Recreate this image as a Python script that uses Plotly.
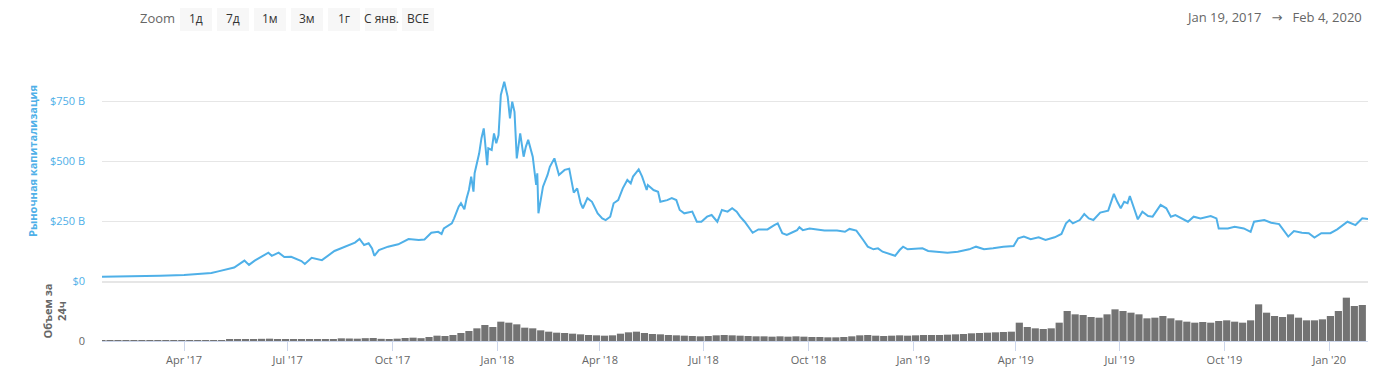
import pandas as pd
import plotly.graph_objects as go
from plotly.subplots import make_subplots

# ---------------- data ----------------
price_dates = [
    "2017-01-19", "2017-02-13", "2017-03-11", "2017-04-01", "2017-04-16", "2017-04-25",
    "2017-05-01", "2017-05-10", "2017-05-15", "2017-05-24", "2017-05-28", "2017-06-02",
    "2017-06-11", "2017-06-14", "2017-06-17", "2017-06-23", "2017-06-28", "2017-07-04",
    "2017-07-13", "2017-07-16", "2017-07-22", "2017-07-31", "2017-08-11", "2017-08-20",
    "2017-08-29", "2017-09-02", "2017-09-06", "2017-09-10", "2017-09-13", "2017-09-15",
    "2017-09-19", "2017-09-27", "2017-10-06", "2017-10-15", "2017-10-24", "2017-10-29",
    "2017-11-04", "2017-11-10", "2017-11-13", "2017-11-15", "2017-11-22", "2017-11-24",
    "2017-11-28", "2017-11-30", "2017-12-03", "2017-12-05", "2017-12-07", "2017-12-09",
    "2017-12-11", "2017-12-12", "2017-12-15", "2017-12-16", "2017-12-18", "2017-12-20",
    "2017-12-21", "2017-12-23", "2017-12-24", "2017-12-27", "2017-12-29", "2017-12-31",
    "2018-01-02", "2018-01-04", "2018-01-07", "2018-01-10", "2018-01-12", "2018-01-14",
    "2018-01-16", "2018-01-18", "2018-01-21", "2018-01-24", "2018-01-26", "2018-01-28",
    "2018-02-01", "2018-02-04", "2018-02-05", "2018-02-06", "2018-02-10", "2018-02-14",
    "2018-02-16", "2018-02-20", "2018-02-24", "2018-03-01", "2018-03-05", "2018-03-09",
    "2018-03-12", "2018-03-15", "2018-03-17", "2018-03-21", "2018-03-25", "2018-03-30",
    "2018-04-03", "2018-04-06", "2018-04-10", "2018-04-13", "2018-04-17", "2018-04-21",
    "2018-04-25", "2018-04-28", "2018-04-30", "2018-05-05", "2018-05-08", "2018-05-12",
    "2018-05-13", "2018-05-18", "2018-05-22", "2018-05-24", "2018-05-30", "2018-06-03",
    "2018-06-07", "2018-06-10", "2018-06-14", "2018-06-21", "2018-06-25", "2018-06-29",
    "2018-07-04", "2018-07-08", "2018-07-13", "2018-07-17", "2018-07-22", "2018-07-26",
    "2018-07-30", "2018-08-02", "2018-08-06", "2018-08-10", "2018-08-13", "2018-08-18",
    "2018-08-26", "2018-09-01", "2018-09-04", "2018-09-08", "2018-09-12", "2018-09-17",
    "2018-09-21", "2018-09-23", "2018-09-26", "2018-10-02", "2018-10-09", "2018-10-15",
    "2018-10-26", "2018-11-02", "2018-11-06", "2018-11-12", "2018-11-18", "2018-11-22",
    "2018-11-27", "2018-12-01", "2018-12-05", "2018-12-11", "2018-12-16", "2018-12-20",
    "2018-12-23", "2018-12-27", "2019-01-05", "2019-01-09", "2019-01-14", "2019-01-22",
    "2019-01-31", "2019-02-09", "2019-02-19", "2019-02-25", "2019-03-04", "2019-03-12",
    "2019-03-21", "2019-03-30", "2019-04-03", "2019-04-08", "2019-04-14", "2019-04-21",
    "2019-04-27", "2019-05-05", "2019-05-11", "2019-05-15", "2019-05-18", "2019-05-21",
    "2019-05-27", "2019-05-31", "2019-06-04", "2019-06-08", "2019-06-14", "2019-06-21",
    "2019-06-23", "2019-06-26", "2019-06-29", "2019-07-02", "2019-07-05", "2019-07-08",
    "2019-07-10", "2019-07-13", "2019-07-17", "2019-07-21", "2019-07-26", "2019-07-30",
    "2019-08-02", "2019-08-06", "2019-08-11", "2019-08-15", "2019-08-19", "2019-08-24",
    "2019-08-30", "2019-09-04", "2019-09-10", "2019-09-19", "2019-09-24", "2019-09-26",
    "2019-10-04", "2019-10-10", "2019-10-18", "2019-10-24", "2019-10-27", "2019-11-05",
    "2019-11-11", "2019-11-18", "2019-11-26", "2019-12-01", "2019-12-08", "2019-12-14",
    "2019-12-19", "2019-12-25", "2020-01-02", "2020-01-08", "2020-01-17", "2020-01-24",
    "2020-01-30", "2020-02-04",
]
# total market capitalisation, billions of USD
price_values = [
    18, 19, 22, 25, 30, 33,
    40, 52, 56, 85, 67, 85,
    108, 118, 105, 118, 100, 101,
    83, 71, 97, 87, 125, 143,
    160, 175, 150, 157, 136, 105,
    129, 143, 153, 175, 171, 173,
    201, 205, 196, 219, 240, 261,
    310, 324, 299, 345, 379, 435,
    372, 449, 504, 532, 595, 636,
    588, 483, 553, 546, 615, 574,
    608, 775, 830, 768, 678, 747,
    705, 511, 615, 518, 560, 588,
    518, 400, 449, 282, 393, 442,
    476, 511, 442, 463, 468, 368,
    386, 324, 303, 345, 330, 282,
    261, 254, 268, 324, 337, 386,
    421, 407, 435, 465, 435, 379,
    400, 379, 372, 330, 337, 345,
    337, 296, 282, 289, 247, 247,
    268, 275, 247, 296, 289, 303,
    289, 268, 247, 219, 201, 215,
    215, 233, 240, 199, 192, 203,
    212, 224, 212, 219, 215, 210,
    210, 205, 217, 210, 171, 143,
    132, 136, 122, 112, 105, 129,
    143, 132, 133, 136, 125, 122,
    118, 122, 132, 143, 132, 136,
    143, 146, 178, 185, 174, 182,
    171, 182, 196, 240, 254, 240,
    254, 279, 261, 254, 285, 293,
    324, 363, 330, 303, 330, 324,
    354, 310, 257, 289, 271, 268,
    289, 317, 303, 268, 275, 261,
    247, 268, 261, 271, 261, 219,
    219, 226, 219, 205, 247, 254,
    243, 237, 185, 208, 201, 199,
    181, 199, 199, 215, 247, 233,
    261, 258,
]

# weekly 24h volume, billions of USD (one bar per week starting 2017-01-19)
volume_start = "2017-01-19"
volume_values = [
    # 2017
    0.5, 0.6,
    0.5, 0.6, 0.7, 0.8,
    0.9, 1.0, 1.3, 1.1, 1.2,
    1.3, 1.2, 1.6, 1.9,
    2.5, 3.2, 4.0, 5.5,
    5.0, 6.5, 7.0, 5.8, 5.0,
    4.5, 5.5, 6.0, 4.2,
    5.0, 6.0, 8.0, 7.5, 7.0,
    8.5, 9.0, 6.5, 6.0,
    7.0, 9.0, 10.0, 8.5,
    12.0, 16.0, 15.0, 18.0, 24.0,
    30.0, 38.0, 48.0, 42.0,
    # 2018
    58, 55, 50, 40,
    38, 32, 28, 25,
    24, 22, 20, 18, 17,
    16, 17, 22, 26,
    28, 24, 21, 20, 18,
    17, 16, 15, 14,
    15, 17, 18, 17,
    16, 15, 14, 14, 13,
    14, 13, 14, 13,
    12, 12, 11, 11,
    12, 14, 17, 18, 16,
    15, 16, 17, 16,
    # 2019
    17, 18, 18, 18, 19,
    20, 21, 23, 24,
    25, 26, 27, 28,
    55, 42, 38, 36,
    38, 55, 90, 80, 78,
    72, 70, 80, 95,
    90, 85, 80, 68,
    70, 75, 68, 62, 58,
    55, 57, 55, 60,
    62, 58, 55, 62, 110,
    85, 75, 72, 80,
    70, 62, 62, 65,
    # 2020
    75, 90, 130, 105, 108,
]
volume_dates = pd.date_range(volume_start, periods=len(volume_values), freq="7D")

price_ticks = [0, 250, 500, 750, 1000]
price_tick_text = ["$0", "$250 B", "$500 B", "$750 B", ""]
zoom_buttons = ["1д", "7д", "1м", "3м", "1г", "С янв.", "ВСЕ"]
range_from = "Jan 19, 2017"
range_to = "Feb 4, 2020"

# ---------------- figure ----------------
# the page body has an 8 px margin, so the figure is drawn 8 px in from the
# top-left corner of the window; all pixel positions below are window pixels
OFF = 8
WIN_W, WIN_H = 1397, 382
W, H = WIN_W - OFF, WIN_H - OFF
PL, PR, PT, PB = 102, 1368, 41, 341          # plot area in window pixels
ML, MR, MT, MB = PL - OFF, WIN_W - PR, PT - OFF, WIN_H - PB
PW, PH = PR - PL, PB - PT

def px(x):
    return (x - PL) / PW

def py(y):
    return (PB - y) / PH

FONT = "Open Sans, DejaVu Sans, sans-serif"
BLUE = "#4fb0e8"
GRAY = "#666666"

fig = make_subplots(rows=2, cols=1, shared_xaxes=True, vertical_spacing=0,
                    row_heights=[0.8, 0.2])

fig.add_trace(go.Scatter(x=price_dates, y=price_values, mode="lines",
                         line=dict(color=BLUE, width=2), hoverinfo="x+y",
                         showlegend=False), row=1, col=1)
fig.add_trace(go.Bar(x=volume_dates, y=volume_values, marker_color="#737373",
                     marker_line_width=0, showlegend=False), row=2, col=1)

x_range = ["2017-01-19", "2020-02-04"]
fig.update_xaxes(range=x_range, showgrid=False, zeroline=False, automargin=False)
fig.update_xaxes(row=1, col=1, showticklabels=False, showline=True,
                 linecolor="#e6e6e6", linewidth=2, ticks="")
fig.update_xaxes(row=2, col=1, showline=True, linecolor="#ccd6eb", linewidth=1,
                 ticks="outside", ticklen=9, tickcolor="#ccd6eb",
                 dtick="M3", tick0="2017-01-01", tickformat="%b '%y",
                 tickfont=dict(family=FONT, size=11, color=GRAY))

fig.update_yaxes(automargin=False)
fig.update_yaxes(row=1, col=1, range=[0, 1000], tickvals=price_ticks,
                 ticktext=price_tick_text, showgrid=True, gridcolor="#e6e6e6",
                 zeroline=False, ticklabelstandoff=16,
                 tickfont=dict(family=FONT, size=11, color=BLUE),
                 title=dict(text="<b>Рыночная капитализация</b>",
                            font=dict(family=FONT, size=11, color=BLUE),
                            standoff=10))
fig.update_yaxes(row=2, col=1, range=[0, 180], tickvals=[0], ticktext=["0"],
                 showgrid=False, zeroline=False, ticklabelstandoff=16,
                 tickfont=dict(family=FONT, size=11, color=GRAY),
                 title=dict(text="<b>Объем за<br>24ч</b>",
                            font=dict(family=FONT, size=11, color=GRAY),
                            standoff=9))

shapes = []
annotations = []
annotations.append(dict(xref="paper", yref="paper", x=px(157), y=py(18),
                        xanchor="center", yanchor="middle",
                        text="Zoom", showarrow=False,
                        font=dict(family=FONT, size=13, color=GRAY)))
btn_lefts = [180, 217, 254, 291, 328, 365, 402]
for label, left in zip(zoom_buttons, btn_lefts):
    shapes.append(dict(type="rect", xref="paper", yref="paper",
                       x0=px(left), x1=px(left + 32), y0=py(6), y1=py(31),
                       fillcolor="#f7f7f7", line=dict(width=0), layer="below"))
    annotations.append(dict(xref="paper", yref="paper", x=px(left + 16), y=py(18),
                            xanchor="center", yanchor="middle",
                            text=label, showarrow=False,
                            font=dict(family=FONT, size=12, color="#333333")))
annotations.append(dict(xref="paper", yref="paper", x=px(1364), y=py(17),
                        xanchor="right", yanchor="middle",
                        text=f"{range_from}\u00a0\u00a0\u00a0\u2192\u00a0\u00a0\u00a0{range_to}",
                        showarrow=False,
                        font=dict(family=FONT, size=13, color=GRAY)))

fig.update_layout(width=W, height=H,
                  margin=dict(l=ML, r=MR, t=MT, b=MB, autoexpand=False),
                  paper_bgcolor="white", plot_bgcolor="white", bargap=0.1,
                  shapes=shapes, annotations=annotations,
                  font=dict(family=FONT, color=GRAY))

fig.write_html("out.html")
